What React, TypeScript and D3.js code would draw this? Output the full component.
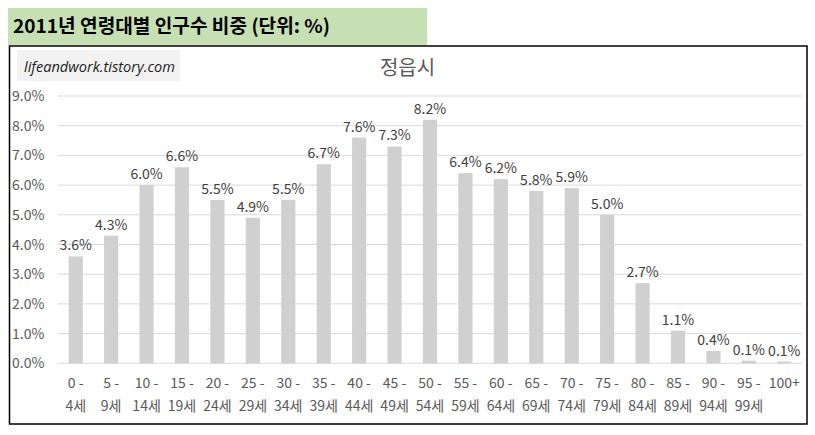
import React from "react";
import * as d3 from "d3";

const categories: string[][] = [
  ["0 -", "4세"], ["5 -", "9세"], ["10 -", "14세"], ["15 -", "19세"], ["20 -", "24세"],
  ["25 -", "29세"], ["30 -", "34세"], ["35 -", "39세"], ["40 -", "44세"], ["45 -", "49세"],
  ["50 -", "54세"], ["55 -", "59세"], ["60 -", "64세"], ["65 -", "69세"], ["70 -", "74세"],
  ["75 -", "79세"], ["80 -", "84세"], ["85 -", "89세"], ["90 -", "94세"], ["95 -", "99세"],
  ["100+", ""],
];
const values: number[] = [
  3.6, 4.3, 6.0, 6.6, 5.5, 4.9, 5.5, 6.7, 7.6, 7.3, 8.2, 6.4, 6.2, 5.8, 5.9, 5.0, 2.7, 1.1, 0.42, 0.09, 0.06,
];
const yTicks: number[] = [0, 1, 2, 3, 4, 5, 6, 7, 8, 9];
const titleText = "2011년 연령대별 인구수 비중 (단위: %)";
const chartTitle = "정읍시";
const watermark = "lifeandwork.tistory.com";

const FONT = "'Noto Sans CJK KR', 'Noto Sans', sans-serif";

export default function App() {
  const W = 815, H = 435;
  const plotLeft = 58, plotRight = 802, plotTop = 96, plotBottom = 363.3;
  const x = d3.scaleBand<number>().domain(d3.range(categories.length)).range([plotLeft, plotRight]).paddingInner(0.6).paddingOuter(0.3);
  const y = d3.scaleLinear().domain([0, 9]).range([plotBottom, plotTop]);

  return (
    <svg width={W} height={H} style={{ position: "absolute", left: 0, top: 0, background: "#fff" }} fontFamily={FONT}>
      <rect x={0} y={0} width={W} height={H} fill="#fff" />
      {/* title banner */}
      <rect x={8} y={8} width={419} height={37} fill="#C6E0B4" />
      <text x={13} y={33} fontSize={19} fontWeight="bold" fill="#000" textLength={317} lengthAdjust="spacingAndGlyphs">{titleText}</text>
      {/* chart border */}
      <rect x={9.5} y={46} width={797.5} height={378} fill="#fff" stroke="#000" strokeWidth={1.5} />
      {/* watermark */}
      <rect x={17} y={50} width={163} height={31} fill="#F2F2F2" />
      <text x={24} y={72} fontSize={15} fontStyle="italic" fill="#222" fontFamily="'Open Sans', 'Noto Sans', sans-serif" textLength={151} lengthAdjust="spacingAndGlyphs">{watermark}</text>
      {/* chart title */}
      <text x={407.5} y={75} fontSize={20} fill="#595959" textAnchor="middle">{chartTitle}</text>
      {/* gridlines and y labels */}
      {yTicks.map((t) => (
        <g key={t}>
          <line x1={plotLeft} x2={plotRight} y1={y(t)} y2={y(t)} stroke="#D9D9D9" strokeWidth={1} />
          <text x={12} y={y(t) + 5} fontSize={14} fill="#595959">{t.toFixed(1) + "%"}</text>
        </g>
      ))}
      {/* bars */}
      {values.map((v, i) => (
        <g key={i}>
          <rect x={x(i)!} y={y(v)} width={x.bandwidth()} height={plotBottom - y(v)} fill="#D0D0D0" />
          <text x={x(i)! + x.bandwidth() / 2} y={y(v) - 6} fontSize={14} fill="#404040" textAnchor="middle">{v.toFixed(1) + "%"}</text>
        </g>
      ))}
      {/* x labels */}
      {categories.map((c, i) => (
        <g key={i}>
          <text x={x(i)! + x.bandwidth() / 2} y={388} fontSize={14} fill="#595959" textAnchor="middle">{c[0]}</text>
          {c[1] && <text x={x(i)! + x.bandwidth() / 2} y={411} fontSize={14} fill="#595959" textAnchor="middle">{c[1]}</text>}
        </g>
      ))}
    </svg>
  );
}
